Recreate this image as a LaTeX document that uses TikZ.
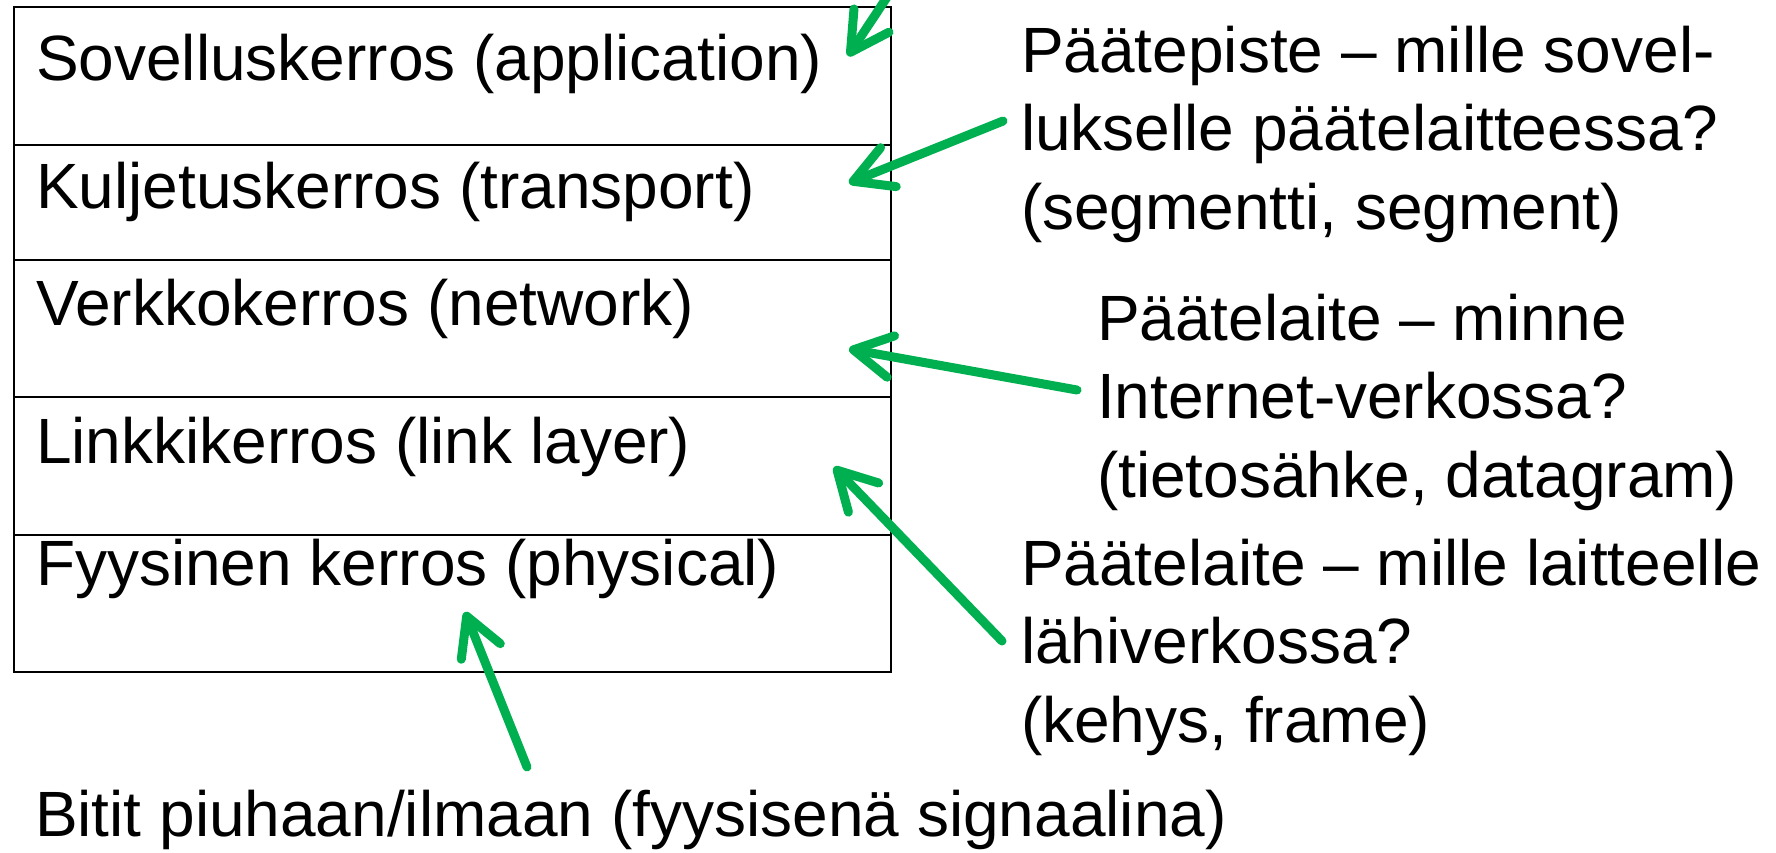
\documentclass[tikz,border=0pt]{standalone}
\usepackage{fontspec}
\setmainfont{Liberation Sans}
\usetikzlibrary{arrows.meta}
\definecolor{arrgreen}{RGB}{0,176,80}
\begin{document}
\begin{tikzpicture}[x=0.5pt,y=-0.5pt,
  layerbox/.style={draw=black, line width=1pt, rectangle, anchor=north west,
    inner sep=0pt, outer sep=0pt, minimum width=438.5pt},
  lbl/.style={anchor=base west, inner sep=0pt, outer sep=0pt,
    font=\fontsize{32}{39.25}\selectfont, align=left},
  pointer/.style={draw=arrgreen, line width=4.5pt, line cap=round, line join=round,
    -{Straight Barb[length=19pt,width=21pt,round]}}]
\useasboundingbox (0,0) rectangle (1776,852);
% layer boxes
\node[layerbox, minimum height=69pt]   (app)  at (14,7)   {};
\node[layerbox, minimum height=57.5pt] (tra)  at (14,145) {};
\node[layerbox, minimum height=68.5pt] (net)  at (14,260) {};
\node[layerbox, minimum height=69pt]   (lnk)  at (14,397) {};
\node[layerbox, minimum height=68.5pt] (phy)  at (14,535) {};
% layer texts
\node[lbl] (tapp) at (36,80)  {Sovelluskerros (application)};
\node[lbl] (ttra) at (36,208) {Kuljetuskerros (transport)};
\node[lbl] (tnet) at (36,325) {Verkkokerros (network)};
\node[lbl] (tlnk) at (36,463) {Linkkikerros (link layer)};
\node[lbl] (tphy) at (36,585) {Fyysinen kerros (physical)};
% explanations (base anchor = baseline of last line)
\node[lbl] (ea) at (1021,229) {Päätepiste – mille sovel-\\lukselle päätelaitteessa?\\(segmentti, segment)};
\node[lbl] (eb) at (1097,497) {Päätelaite – minne\\Internet-verkossa?\\(tietosähke, datagram)};
\node[lbl] (ec) at (1021,742) {Päätelaite – mille laitteelle\\lähiverkossa?\\(kehys, frame)};
\node[lbl] (ed) at (35,836)   {Bitit piuhaan/ilmaan (fyysisenä signaalina)};
% arrow ends
\coordinate (s1) at (905,-30);  \coordinate (t1) at (848,56);
\coordinate (s2) at (1003,121); \coordinate (t2) at (849,183);
\coordinate (s3) at (1077,390); \coordinate (t3) at (849,349);
\coordinate (s4) at (1002,641); \coordinate (t4) at (834,467);
\coordinate (s5) at (527,767);  \coordinate (t5) at (465,612);
\draw[pointer] (s1) -- (t1);
\draw[pointer] (s2) -- (t2);
\draw[pointer] (s3) -- (t3);
\draw[pointer] (s4) -- (t4);
\draw[pointer] (s5) -- (t5);
\end{tikzpicture}
\end{document}
